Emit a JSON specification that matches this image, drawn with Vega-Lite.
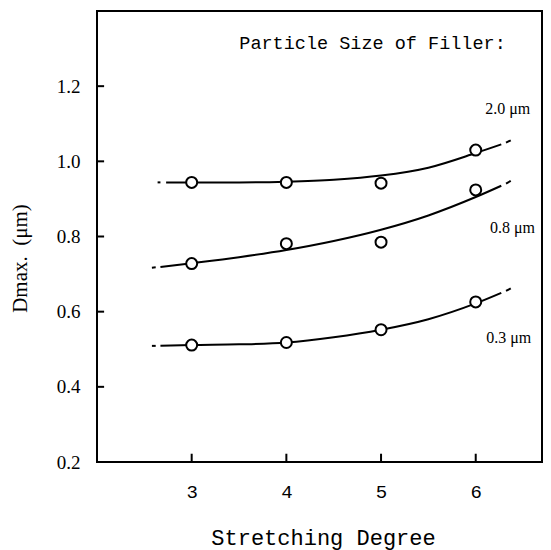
{
  "$schema": "https://vega.github.io/schema/vega-lite/v6.json",
  "autosize": "none",
  "width": 445,
  "height": 451,
  "padding": {"left": 97, "top": 11, "right": 9, "bottom": 88},
  "background": "white",
  "config": {
    "view": {"stroke": "black", "strokeWidth": 2},
    "axis": {"grid": false, "domain": false, "ticks": false, "labelColor": "black", "titleColor": "black", "titleFontWeight": "normal"}
  },
  "datasets": {
    "points": [
      {"series": "2.0", "x": 3, "y": 0.944},
      {"series": "2.0", "x": 4, "y": 0.944},
      {"series": "2.0", "x": 5, "y": 0.942},
      {"series": "2.0", "x": 6, "y": 1.03},
      {"series": "0.8", "x": 3, "y": 0.728},
      {"series": "0.8", "x": 4, "y": 0.781},
      {"series": "0.8", "x": 5, "y": 0.785},
      {"series": "0.8", "x": 6, "y": 0.924},
      {"series": "0.3", "x": 3, "y": 0.511},
      {"series": "0.3", "x": 4, "y": 0.518},
      {"series": "0.3", "x": 5, "y": 0.552},
      {"series": "0.3", "x": 6, "y": 0.626}
    ],
    "curves": [
      {"g": "2.0L", "x": 2.64, "y": 0.944}, {"g": "2.0L", "x": 2.67, "y": 0.944},
      {"g": "2.0M", "x": 2.73, "y": 0.944}, {"g": "2.0M", "x": 3, "y": 0.944}, {"g": "2.0M", "x": 3.5, "y": 0.944}, {"g": "2.0M", "x": 4, "y": 0.946}, {"g": "2.0M", "x": 4.5, "y": 0.951}, {"g": "2.0M", "x": 5, "y": 0.962}, {"g": "2.0M", "x": 5.5, "y": 0.983}, {"g": "2.0M", "x": 6, "y": 1.022}, {"g": "2.0M", "x": 6.27, "y": 1.045},
      {"g": "2.0R", "x": 6.32, "y": 1.05}, {"g": "2.0R", "x": 6.37, "y": 1.056},
      {"g": "0.8L", "x": 2.58, "y": 0.717}, {"g": "0.8L", "x": 2.62, "y": 0.718},
      {"g": "0.8M", "x": 2.67, "y": 0.719}, {"g": "0.8M", "x": 3, "y": 0.729}, {"g": "0.8M", "x": 3.5, "y": 0.745}, {"g": "0.8M", "x": 4, "y": 0.764}, {"g": "0.8M", "x": 4.5, "y": 0.788}, {"g": "0.8M", "x": 5, "y": 0.818}, {"g": "0.8M", "x": 5.5, "y": 0.856}, {"g": "0.8M", "x": 6, "y": 0.905}, {"g": "0.8M", "x": 6.27, "y": 0.935},
      {"g": "0.8R", "x": 6.32, "y": 0.941}, {"g": "0.8R", "x": 6.37, "y": 0.948},
      {"g": "0.3L", "x": 2.58, "y": 0.509}, {"g": "0.3L", "x": 2.62, "y": 0.509},
      {"g": "0.3M", "x": 2.67, "y": 0.509}, {"g": "0.3M", "x": 3, "y": 0.511}, {"g": "0.3M", "x": 3.5, "y": 0.513}, {"g": "0.3M", "x": 4, "y": 0.518}, {"g": "0.3M", "x": 4.5, "y": 0.532}, {"g": "0.3M", "x": 5, "y": 0.552}, {"g": "0.3M", "x": 5.5, "y": 0.58}, {"g": "0.3M", "x": 6, "y": 0.622}, {"g": "0.3M", "x": 6.27, "y": 0.65},
      {"g": "0.3R", "x": 6.32, "y": 0.655}, {"g": "0.3R", "x": 6.37, "y": 0.662}
    ],
    "labels": [
      {"x": 6.10, "y": 1.14, "text": "2.0 μm"},
      {"x": 6.15, "y": 0.822, "text": "0.8 μm"},
      {"x": 6.11, "y": 0.529, "text": "0.3 μm"}
    ],
    "heading": [
      {"x": 3.503, "y": 1.316, "text": "Particle Size of Filler:"}
    ],
    "xticks": [{"x": 3}, {"x": 4}, {"x": 5}, {"x": 6}],
    "yticks": [{"y": 0.4}, {"y": 0.6}, {"y": 0.8}, {"y": 1.0}, {"y": 1.2}]
  },
  "layer": [
    {
      "data": {"name": "curves"},
      "mark": {"type": "line", "color": "black", "strokeWidth": 2, "interpolate": "monotone"},
      "encoding": {
        "x": {"field": "x", "type": "quantitative", "scale": {"domain": [2, 6.7], "nice": false, "zero": false},
          "axis": {"values": [3, 4, 5, 6], "format": "d", "labelPadding": 20, "labelFont": "Liberation Mono", "labelFontSize": 19,
            "title": "Stretching Degree", "titleFont": "Liberation Mono", "titleFontSize": 22, "titleX": 226, "titleY": 82, "titleBaseline": "alphabetic", "titleAnchor": "start", "titleAlign": "center"}},
        "y": {"field": "y", "type": "quantitative", "scale": {"domain": [0.2, 1.4], "nice": false, "zero": false},
          "axis": {"values": [0.2, 0.4, 0.6, 0.8, 1.0, 1.2], "format": ".1f", "labelPadding": 17, "labelFont": "Liberation Serif", "labelFontSize": 19, "labelBaseline": "middle",
            "title": "Dmax.\u00a0\u00a0(μm)", "titleFont": "Liberation Serif", "titleFontSize": 21, "titleX": -77, "titleY": 247, "titleAlign": "center", "titleBaseline": "middle", "titleAnchor": "start"}},
        "detail": {"field": "g"}
      }
    },
    {
      "data": {"name": "xticks"},
      "mark": {"type": "rule", "color": "black", "strokeWidth": 2},
      "encoding": {
        "x": {"field": "x", "type": "quantitative"},
        "y": {"datum": 0.2},
        "y2": {"datum": 0.222}
      }
    },
    {
      "data": {"name": "yticks"},
      "mark": {"type": "rule", "color": "black", "strokeWidth": 2},
      "encoding": {
        "y": {"field": "y", "type": "quantitative"},
        "x": {"datum": 2},
        "x2": {"datum": 2.075}
      }
    },
    {
      "data": {"name": "points"},
      "mark": {"type": "point", "shape": "circle", "filled": true, "fill": "white", "stroke": "black", "strokeWidth": 2, "size": 121, "opacity": 1},
      "encoding": {
        "x": {"field": "x", "type": "quantitative"},
        "y": {"field": "y", "type": "quantitative"}
      }
    },
    {
      "data": {"name": "labels"},
      "mark": {"type": "text", "align": "left", "baseline": "middle", "font": "Liberation Serif", "fontSize": 16, "color": "black"},
      "encoding": {
        "x": {"field": "x", "type": "quantitative"},
        "y": {"field": "y", "type": "quantitative"},
        "text": {"field": "text"}
      }
    },
    {
      "data": {"name": "heading"},
      "mark": {"type": "text", "align": "left", "baseline": "middle", "font": "Liberation Mono", "fontSize": 18.5, "color": "black"},
      "encoding": {
        "x": {"field": "x", "type": "quantitative"},
        "y": {"field": "y", "type": "quantitative"},
        "text": {"field": "text"}
      }
    }
  ]
}
